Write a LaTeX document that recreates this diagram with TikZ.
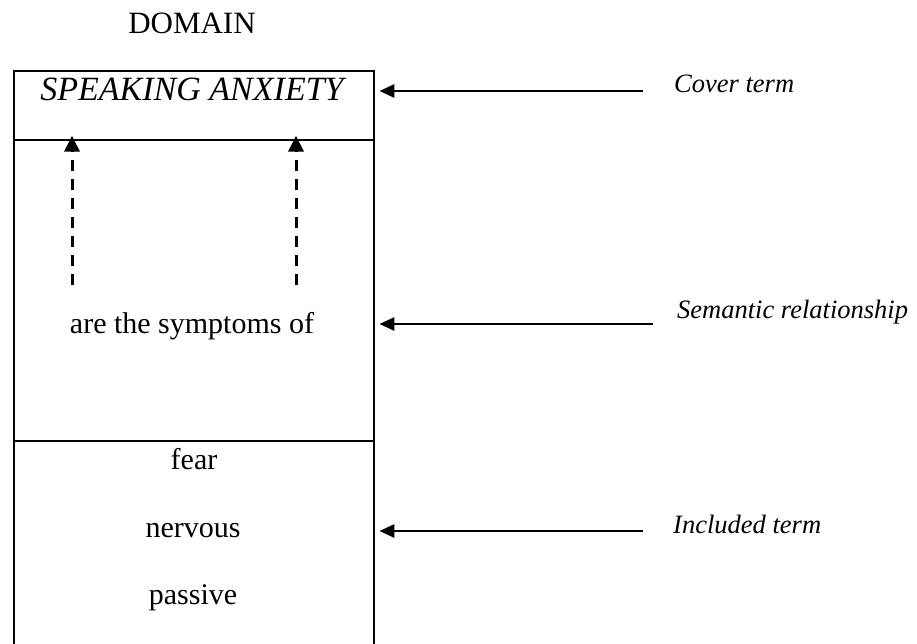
\documentclass[tikz,border=0pt]{standalone}
\usepackage{fontspec}
\setmainfont{Liberation Serif}
\usetikzlibrary{arrows.meta}
\begin{document}
\begin{tikzpicture}[x=1pt,y=-1pt,
  cell/.style={draw, line width=2.8pt, inner sep=0pt, minimum width=360pt},
  maintext/.style={anchor=base, inner sep=0pt, font=\fontsize{30}{36}\selectfont},
  sidelabel/.style={anchor=base west, inner sep=0pt, font=\fontsize{26.5}{32}\selectfont\itshape},
  pointer/.style={line width=2.8pt, -{Triangle[length=15pt,width=13pt]}},
  dasharrow/.style={line width=3pt, dash pattern=on 11pt off 8pt, -{Triangle[length=16pt,width=15pt]}}
]
\useasboundingbox (0,0) rectangle (917,643);
% cells of the domain box
\node[cell, minimum height=69pt] (coverbox) at (194,105.5) {};
\node[cell, minimum height=301pt] (midbox) at (194,290.5) {};
\node[cell, minimum height=219pt] (botbox) at (194,550.5) {};
% texts
\node[anchor=base, inner sep=0pt, font=\fontsize{31}{36}\selectfont] (domain) at (192,33) {DOMAIN};
\node[anchor=base, inner sep=0pt, font=\fontsize{34}{40}\selectfont\itshape] (cover) at (192,100) {SPEAKING ANXIETY};
\node[maintext] (relation) at (192,333) {are the symptoms of};
\node[maintext] (fear) at (194,469) {fear};
\node[maintext] (nervous) at (193,537) {nervous};
\node[maintext] (passive) at (193,604) {passive};
% side labels
\node[sidelabel] (lcover) at (674,92) {Cover term};
\node[sidelabel] (lsem) at (677,318) {Semantic relationship};
\node[sidelabel] (lincl) at (673,533) {Included term};
% pointer arrows
\coordinate (covtail) at (643,91);
\coordinate (semtail) at (653,324);
\coordinate (incltail) at (643,531);
\draw[pointer] (covtail) -- ([xshift=4pt]coverbox.east |- covtail);
\draw[pointer] (semtail) -- ([xshift=4pt]midbox.east |- semtail);
\draw[pointer] (incltail) -- ([xshift=4pt]botbox.east |- incltail);
% dashed arrows
\coordinate (d1) at (72,285);
\coordinate (d2) at (296,285);
\draw[dasharrow] (d1) -- ([yshift=3pt]d1 |- midbox.north);
\draw[dasharrow] (d2) -- ([yshift=3pt]d2 |- midbox.north);
\end{tikzpicture}
\end{document}
